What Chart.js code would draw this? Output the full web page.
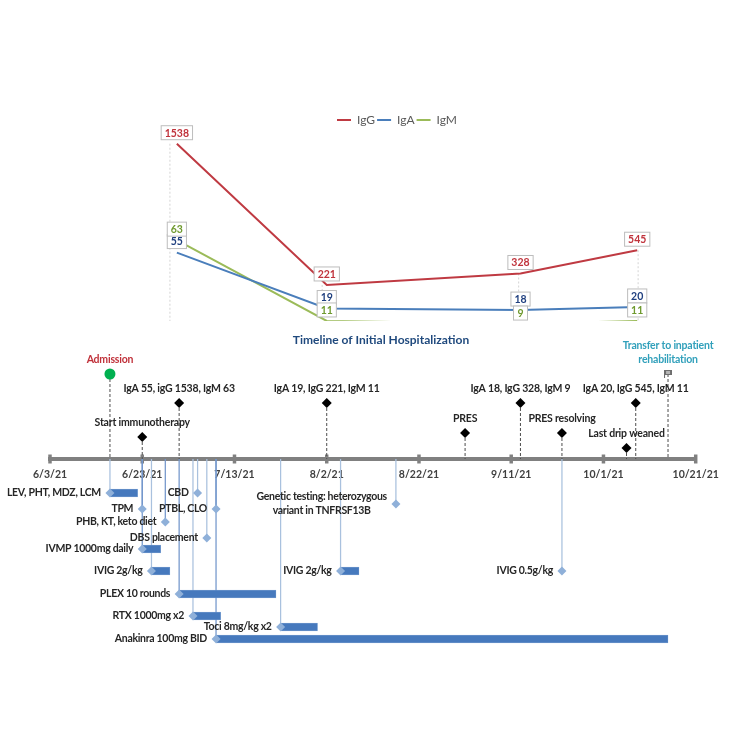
<!DOCTYPE html>
<html>
<head>
<meta charset="utf-8">
<title>Timeline of Initial Hospitalization</title>
<script src="https://cdn.jsdelivr.net/npm/chart.js@4"></script>
<style>
	html, body { margin: 0; padding: 0; background: #fff; overflow: hidden; }
	canvas { position: absolute; left: 0; }
	#labChart { top: 0; }
	#timelineChart { top: 330px; }
</style>
</head>
<body>
<canvas id="labChart" width="750" height="330"></canvas>
<canvas id="timelineChart" width="750" height="342"></canvas>
<script>
// all x values are days since 6/3/21
var chartTitle = "Timeline of Initial Hospitalization";
var tickLabels = ["6/3/21", "6/23/21", "7/13/21", "8/2/21", "8/22/21", "9/11/21", "10/1/21", "10/21/21"];
var tickDays = [0, 20, 40, 60, 80, 100, 120, 140];

// lab values
var labDays = [27.5, 60, 102, 127.3];
var leaderDays = [26, 59, 101.6, 127.5];
var igG = [1538, 221, 328, 545];
var igA = [55, 19, 18, 20];
var igM = [63, 11, 9, 11];

// events above the axis
var eventDays = [13, 20, 28, 60, 90, 102, 111, 125, 127, 134];
var eventRows = [85, 22, 56, 56, 26, 56, 26, 11, 56, 85];
var eventLabels = [
	["Admission"],
	["Start immunotherapy"],
	["IgA 55, igG 1538, IgM 63"],
	["IgA 19, IgG 221, IgM 11"],
	["PRES"],
	["IgA 18, IgG 328, IgM 9"],
	["PRES resolving"],
	["Last drip weaned"],
	["IgA 20, IgG 545, IgM 11"],
	["Transfer to inpatient", "rehabilitation"]
];

// treatments below the axis, end is null when there is no bar
var treatDays = [13, 20, 25, 32, 34, 36, 20, 22, 28, 31, 50, 36, 75, 63, 111];
var treatEnds = [19, null, null, null, null, null, 24, 26, 49, 37, 58, 134, null, 67, null];
var treatRows = [-34, -50, -63, -34, -79, -50, -90, -112, -135, -157, -168, -180, -45, -112, -112];
var treatLabels = [
	["LEV, PHT, MDZ, LCM"],
	["TPM"],
	["PHB, KT, keto diet"],
	["CBD"],
	["DBS placement"],
	["PTBL, CLO"],
	["IVMP 1000mg daily"],
	["IVIG 2g/kg"],
	["PLEX 10 rounds"],
	["RTX 1000mg x2"],
	["Toci 8mg/kg x2"],
	["Anakinra 100mg BID"],
	["Genetic testing: heterozygous", "variant in TNFRSF13B"],
	["IVIG 2g/kg"],
	["IVIG 0.5g/kg"]
];
var darkStemDays = [20, 25, 28, 36];

var FONT = "Lato, 'Open Sans', sans-serif";
var TEXT = "#262626";
var RED = "#bf3a42";
var BLUE = "#4a7ebb";
var GREEN = "#9bbb59";

// a two point line per x, with a gap between them
function stems(days, tops, bottom){
	var out = [];
	days.forEach(function(d, i){
		out.push({x: d, y: tops[i]}, {x: d, y: bottom}, {x: d, y: null});
	});
	return out;
}

function labPoints(values){
	return values.map(function(v, i){ return {x: labDays[i], y: v}; });
}

function labLine(label, values, color, axis, textColor){
	return {
		label: label,
		data: labPoints(values),
		borderColor: color,
		backgroundColor: color,
		borderWidth: 2,
		pointRadius: 0,
		showLine: true,
		tension: 0,
		clip: 0,
		yAxisID: axis,
		textColor: textColor
	};
}

// white boxes with the values, above each point
var valueBoxes = {
	id: "valueBoxes",
	afterDatasetsDraw: function(chart){
		var ctx = chart.ctx;
		ctx.save();
		ctx.font = "bold 10.5px " + FONT;
		ctx.textAlign = "center";
		ctx.textBaseline = "middle";
		chart.data.datasets.forEach(function(ds, i){
			if (!ds.textColor) return;
			chart.getDatasetMeta(i).data.forEach(function(pt, j){
				var text = String(ds.data[j].y);
				var w = Math.max(ctx.measureText(text).width + 7, 14);
				var h = 14;
				var cy = chart.scales[ds.yAxisID].getPixelForValue(ds.data[j].y) - 11;
				ctx.fillStyle = "#fff";
				ctx.strokeStyle = "#bdbdbd";
				ctx.lineWidth = 1;
				ctx.fillRect(pt.x - w / 2, cy - h / 2, w, h);
				ctx.strokeRect(pt.x - w / 2, cy - h / 2, w, h);
				ctx.fillStyle = ds.textColor;
				ctx.fillText(text, pt.x, cy + 0.5);
			});
		});
		ctx.restore();
	}
};

var labChart = new Chart(document.getElementById("labChart"), {
	type: "scatter",
	data: {
		datasets: [
			labLine("IgG", igG, RED, "yG", "#c0333c"),
			labLine("IgA", igA, BLUE, "yA", "#1f3f7f"),
			labLine("IgM", igM, GREEN, "yA", "#6f9a2f"),
			{
				data: stems(leaderDays, igG, -115),
				borderColor: "#d4d4d4",
				borderWidth: 1,
				borderDash: [2, 2],
				pointRadius: 0,
				showLine: true,
				yAxisID: "yG",
				order: 5
			}
		]
	},
	options: {
		responsive: false,
		animation: false,
		devicePixelRatio: 1,
		layout: { autoPadding: false, padding: { left: 50, right: 6, top: 112, bottom: 9 } },
		scales: {
			x: { type: "linear", display: false, min: 0, max: 150.45 },
			yG: { type: "linear", display: false, min: -115, max: 1610 },
			yA: { type: "linear", display: false, min: 10.97, max: 130 }
		},
		plugins: {
			tooltip: { enabled: false },
			legend: {
				position: "top",
				fullSize: false,
				labels: {
					font: { family: FONT, size: 12 },
					color: "#595959",
					usePointStyle: true,
					pointStyle: "line",
					pointStyleWidth: 14,
					padding: 2,
					filter: function(item){ return !!item.text; }
				}
			}
		}
	},
	plugins: [valueBoxes]
});

// small grey flag for the last event
function flagMarker(){
	var c = document.createElement("canvas");
	c.width = 8;
	c.height = 8;
	var g = c.getContext("2d");
	g.fillStyle = "#6e6e6e";
	g.fillRect(0, 0, 1, 8);
	g.fillRect(1, 0, 7, 5);
	g.fillStyle = "#b5b5b5";
	g.fillRect(2, 1, 4, 3);
	return c;
}

function isDark(ctx){
	return darkStemDays.indexOf(ctx.p0.parsed.x) >= 0 ? "#7396cb" : "#a9c1de";
}

// draws a block of lines, last line sits on y
function drawBlock(ctx, lines, x, y, align){
	var w = 0;
	lines.forEach(function(s){ w = Math.max(w, ctx.measureText(s).width); });
	var cx = align === "right" ? x - w / 2 : x;
	ctx.textAlign = "center";
	lines.forEach(function(s, i){
		ctx.fillText(s, cx, y + (i - (lines.length - 1)) * 13.5);
	});
}

var timelineText = {
	id: "timelineText",
	afterDatasetsDraw: function(chart){
		var ctx = chart.ctx;
		var xs = chart.scales.x;
		var ys = chart.scales.y;
		ctx.save();
		ctx.textBaseline = "middle";

		ctx.font = "bold 12px " + FONT;
		ctx.fillStyle = "#1f497d";
		ctx.textAlign = "center";
		ctx.fillText(chartTitle, 381, 10);

		ctx.font = "bold 10.5px " + FONT;
		ctx.letterSpacing = "-0.2px";
		eventLabels.forEach(function(lines, i){
			ctx.fillStyle = i === 0 ? "#c0313a" : (i === eventLabels.length - 1 ? "#31a0bb" : TEXT);
			drawBlock(ctx, lines, xs.getPixelForValue(eventDays[i]), ys.getPixelForValue(eventRows[i]) - 14.5, "center");
		});

		ctx.fillStyle = TEXT;
		ctx.letterSpacing = "-0.3px";
		treatLabels.forEach(function(lines, i){
			var y = ys.getPixelForValue(treatRows[i]);
			if (lines.length > 1) y += 6.5;
			drawBlock(ctx, lines, xs.getPixelForValue(treatDays[i]) - 9, y, "right");
		});
		ctx.restore();
	}
};

var flag = flagMarker();

var timelineChart = new Chart(document.getElementById("timelineChart"), {
	type: "scatter",
	data: {
		datasets: [
			{
				// axis tick blocks
				data: tickDays.map(function(d){ return {x: d, y: 0}; }),
				pointStyle: "line",
				rotation: 90,
				pointRadius: 4.5,
				borderColor: "#808080",
				borderWidth: 3.5,
				clip: false,
				order: 4
			},
			{
				data: stems(eventDays, eventRows, 0),
				showLine: true,
				borderColor: "#4d4d4d",
				borderWidth: 1,
				borderDash: [3, 2],
				pointRadius: 0,
				clip: false,
				order: 3
			},
			{
				data: stems(treatDays, treatRows, 0),
				showLine: true,
				borderColor: "#a9c1de",
				borderWidth: 1.25,
				segment: { borderColor: isDark },
				pointRadius: 0,
				clip: false,
				order: 3
			},
			{
				type: "bar",
				indexAxis: "y",
				data: treatDays.map(function(d, i){
					return treatEnds[i] === null ? null : {x: [d, treatEnds[i]], y: treatRows[i]};
				}).filter(Boolean),
				backgroundColor: "#4679bd",
				borderColor: "#8fb0da",
				borderWidth: 0.5,
				barThickness: 8,
				clip: false,
				order: 2
			},
			{
				data: treatDays.map(function(d, i){ return {x: d, y: treatRows[i]}; }),
				pointStyle: "rectRot",
				pointRadius: 4.5,
				backgroundColor: "#8fb0d9",
				borderWidth: 0,
				clip: false,
				order: 1
			},
			{
				data: eventDays.map(function(d, i){ return {x: d, y: eventRows[i]}; }),
				pointStyle: eventDays.map(function(d, i){
					return i === 0 ? "circle" : (i === eventDays.length - 1 ? flag : "rectRot");
				}),
				pointRadius: eventDays.map(function(d, i){ return i === 0 ? 5.5 : 5; }),
				backgroundColor: eventDays.map(function(d, i){ return i === 0 ? "#00b050" : "#000"; }),
				borderWidth: 0,
				clip: false,
				order: 0
			}
		]
	},
	options: {
		responsive: false,
		animation: false,
		devicePixelRatio: 1,
		layout: { autoPadding: false, padding: { left: 50, right: 54.3, top: 5, bottom: 12 } },
		scales: {
			x: {
				type: "linear",
				min: 0,
				max: 140,
				position: { y: 0 },
				offset: false,
				grid: { display: false, offset: false },
				border: { color: "#808080", width: 4 },
				afterFit: function(scale){ scale.height = 0; },
				afterBuildTicks: function(scale){
					scale.ticks = tickDays.map(function(d){ return {value: d}; });
				},
				ticks: {
					autoSkip: false,
					maxRotation: 0,
					padding: 1,
					color: "#404040",
					font: { family: FONT, size: 10.5, weight: "bold" },
					callback: function(v){ return tickLabels[tickDays.indexOf(v)]; }
				}
			},
			y: { type: "linear", display: false, min: -201, max: 124, offset: false, grid: { offset: false } }
		},
		plugins: {
			legend: { display: false },
			tooltip: { enabled: false }
		}
	},
	plugins: [timelineText]
});
</script>
</body>
</html>
